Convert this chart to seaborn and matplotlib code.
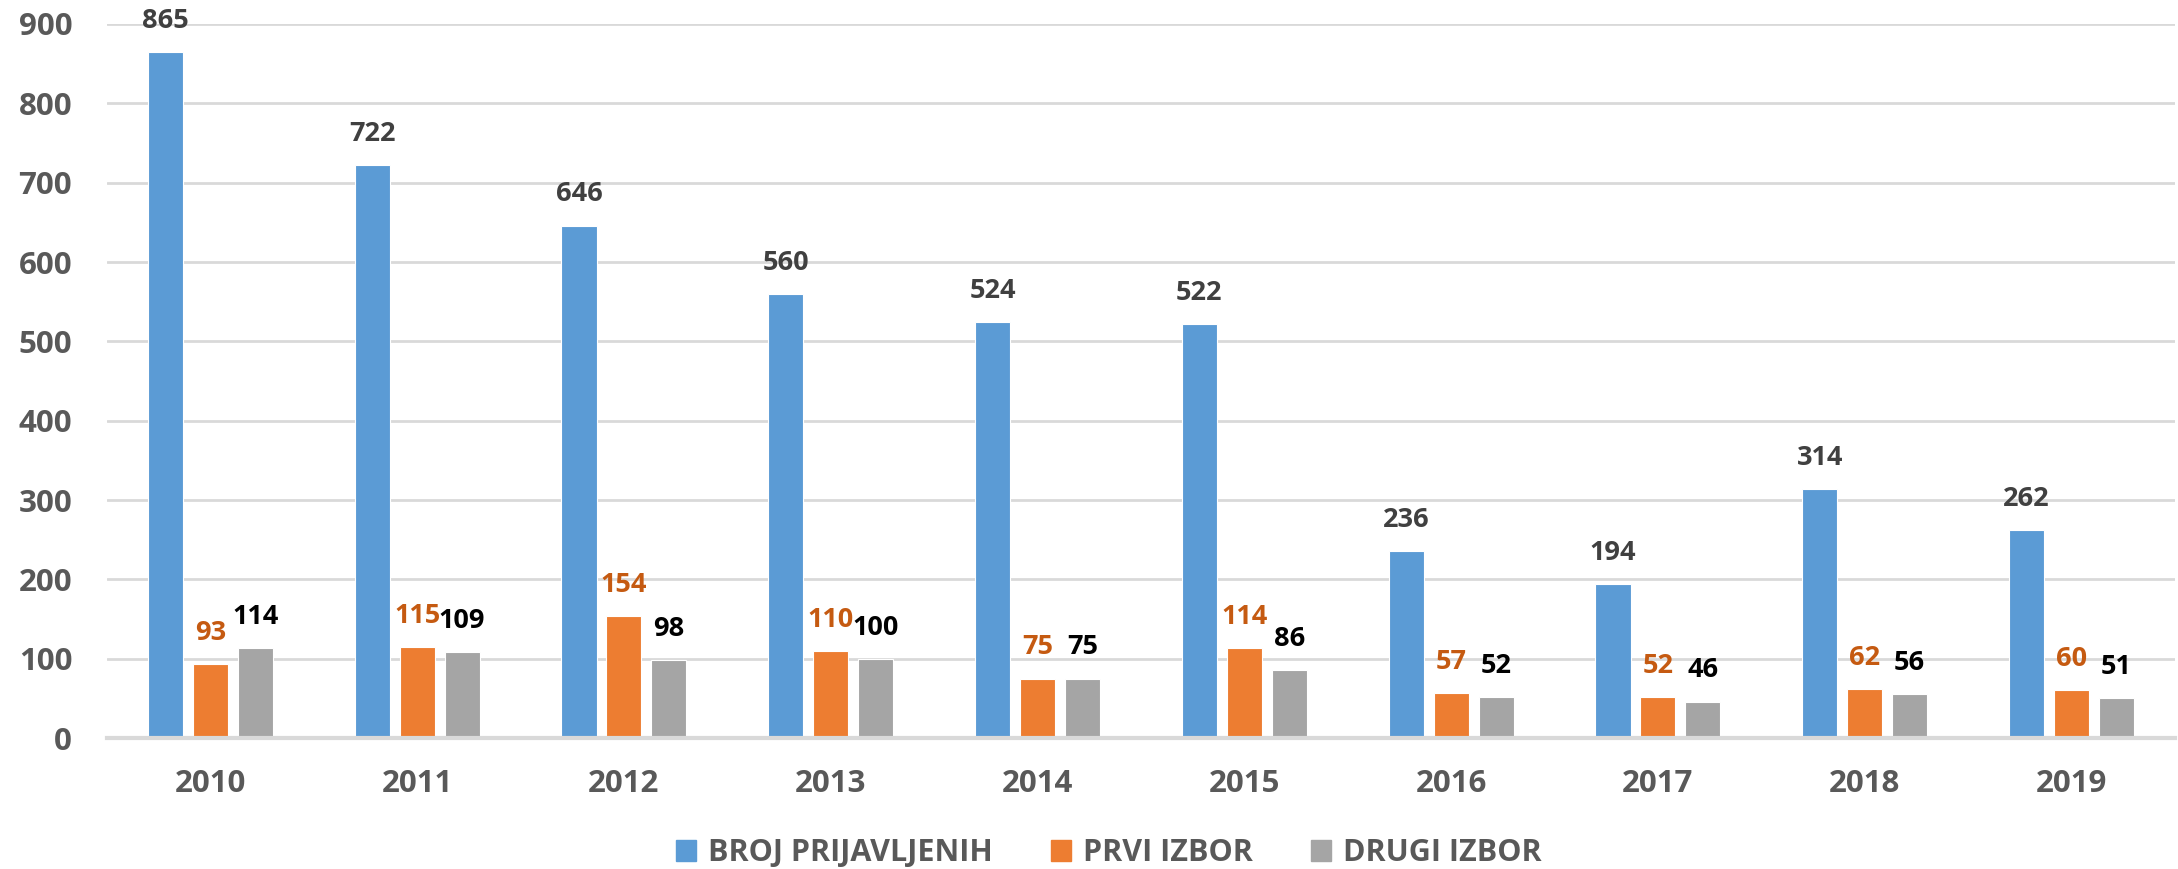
import matplotlib.pyplot as plt
import pandas as pd
import seaborn as sns

# --- dados ---
GODINE = ["2010", "2011", "2012", "2013", "2014", "2015", "2016", "2017", "2018", "2019"]
BROJ_PRIJAVLJENIH = [865, 722, 646, 560, 524, 522, 236, 194, 314, 262]
PRVI_IZBOR = [93, 115, 154, 110, 75, 114, 57, 52, 62, 60]
DRUGI_IZBOR = [114, 109, 98, 100, 75, 86, 52, 46, 56, 51]
SERIJE = ["BROJ PRIJAVLJENIH", "PRVI IZBOR", "DRUGI IZBOR"]

BOJE = ["#5B9BD5", "#ED7D31", "#A5A5A5"]
BOJE_OZNAKA = ["#404040", "#C55A11", "#000000"]
SIVA = "#595959"
MREZA = "#D9D9D9"

sns.set_theme(style="white")
plt.rcParams["font.family"] = ["Open Sans", "DejaVu Sans"]
plt.rcParams["font.weight"] = "bold"

df = pd.DataFrame({
    "godina": GODINE * 3,
    "vrijednost": BROJ_PRIJAVLJENIH + PRVI_IZBOR + DRUGI_IZBOR,
    "serija": [s for s in SERIJE for _ in GODINE],
})

fig = plt.figure(figsize=(21.78, 8.69), dpi=100)
ax = fig.add_axes([0.0491, 0.1507, 0.9495, 0.8217])

sns.barplot(data=df, x="godina", y="vrijednost", hue="serija",
            hue_order=SERIJE, palette=BOJE, saturation=1, width=0.652, gap=0.22,
            edgecolor="white", linewidth=0.8, ax=ax, legend=False)

for cont, boja in zip(ax.containers, BOJE_OZNAKA):
    ax.bar_label(cont, padding=13, fontsize=19.5, fontweight="bold", color=boja)

ax.set_ylim(0, 900)
ax.set_xlim(-0.5, len(GODINE) - 0.5)
ax.set_yticks(range(0, 901, 100))
ax.yaxis.grid(True, color=MREZA, linewidth=2)
ax.set_axisbelow(True)
for s in ["top", "right", "left"]:
    ax.spines[s].set_visible(False)
ax.spines["bottom"].set_color(MREZA)
ax.spines["bottom"].set_linewidth(3)
ax.tick_params(axis="both", length=0, labelsize=22.5, labelcolor=SIVA)
ax.tick_params(axis="y", pad=25)
ax.tick_params(axis="x", pad=22)
for t in ax.get_xticklabels() + ax.get_yticklabels():
    t.set_fontweight("bold")
ax.set_xlabel("")
ax.set_ylabel("")

rucke = [plt.Rectangle((0, 0), 1, 1, color=b) for b in BOJE]
leg = fig.legend(rucke, SERIJE, loc="center", bbox_to_anchor=(0.509, 0.018),
                 ncol=3, frameon=False, fontsize=22, handlelength=0.65,
                 handleheight=0.65, handletextpad=0.4, columnspacing=1.9,
                 borderpad=0.1)
for t in leg.get_texts():
    t.set_color(SIVA)
    t.set_fontweight("bold")

fig.savefig("out.png", dpi=100)
